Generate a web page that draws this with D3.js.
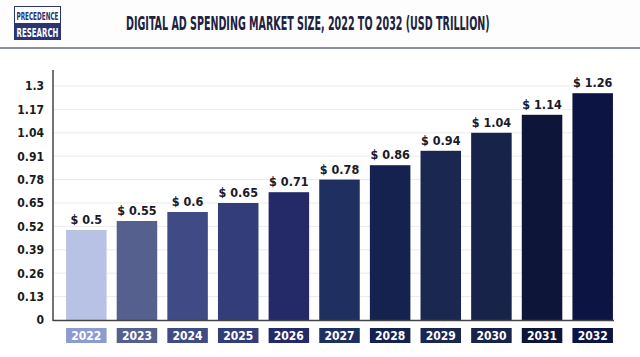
<!DOCTYPE html>
<html><head><meta charset="utf-8">
<script src="https://cdn.jsdelivr.net/npm/d3@7"></script>
<style>
html,body{margin:0;padding:0;background:#fff;}
svg{display:block;}
</style></head>
<body>
<svg id="c" width="640" height="357"></svg>
<script>
const years = ["2022","2023","2024","2025","2026","2027","2028","2029","2030","2031","2032"];
const values = [0.5,0.55,0.6,0.65,0.71,0.78,0.86,0.94,1.04,1.14,1.26];
const valueLabels = ["$ 0.5","$ 0.55","$ 0.6","$ 0.65","$ 0.71","$ 0.78","$ 0.86","$ 0.94","$ 1.04","$ 1.14","$ 1.26"];
const yTicks = [0,0.13,0.26,0.39,0.52,0.65,0.78,0.91,1.04,1.17,1.3];
const barColors = ["#b8c2e4","#56608f","#404b86","#323d79","#232a67","#1f2f5f","#152250","#1a2751","#172348","#0d1638","#0b1443"];
const boxColors = ["#8c9bd1","#56608f","#404b86","#323d79","#232a67","#1f2f5f","#152250","#1a2751","#172348","#0d1638","#0b1443"];

const svg = d3.select("#c");
const font = "'DejaVu Sans Condensed','Liberation Sans Narrow',sans-serif";

// fit text horizontally into a width by scaling
function fitX(sel, x, y, w) {
  const n = sel.node();
  const len = n.getComputedTextLength();
  const k = w / len;
  sel.attr("x", 0).attr("y", 0).attr("transform", `translate(${x},${y}) scale(${k},1)`);
}

// header
svg.append("rect").attr("x",0).attr("y",0).attr("width",640).attr("height",47).attr("fill","#fdfdfe");
svg.append("rect").attr("x",0).attr("y",47).attr("width",640).attr("height",2).attr("fill","#8a8ea8");
// logo
svg.append("rect").attr("x",14.5).attr("y",6.5).attr("width",46).attr("height",33).attr("fill","#fff").attr("stroke","#2b3470").attr("stroke-width",1);
svg.append("rect").attr("x",14.5).attr("y",23).attr("width",46).attr("height",16.5).attr("fill","#2b3470");
const l1 = svg.append("text").attr("font-family",font).attr("font-weight","bold").attr("font-size",11).attr("fill","#2b3470").text("PRECEDENCE");
fitX(l1, 16.5, 20, 42);
const l2 = svg.append("text").attr("font-family",font).attr("font-weight","bold").attr("font-size",12).attr("fill","#fff").text("RESEARCH");
fitX(l2, 16.5, 36.5, 42);
// title
const t = svg.append("text").attr("font-family",font).attr("font-weight","bold").attr("font-size",20).attr("fill","#1c2240")
  .text("DIGITAL AD SPENDING MARKET SIZE, 2022 TO 2032 (USD TRILLION)");
fitX(t, 126, 30, 364);

// chart
const x0 = 53, x1 = 614, yBase = 320, yTop = 86;
const x = d3.scaleBand().domain(years).range([61, 618]).paddingInner(0.2).paddingOuter(0.1);
const y = d3.scaleLinear().domain([0,1.3]).range([yBase, yTop]);

// gridlines
svg.append("g").selectAll("line").data(yTicks.filter(d=>d>0)).join("line")
  .attr("x1",x0).attr("x2",x1).attr("y1",d=>y(d)).attr("y2",d=>y(d))
  .attr("stroke","#ebebeb").attr("stroke-width",1);

// y axis
const yAxis = d3.axisLeft(y).tickValues(yTicks).tickSize(0).tickPadding(9).tickFormat(d=>d===0?"0":String(d));
const ga = svg.append("g").attr("transform",`translate(${x0},0)`).call(yAxis);
ga.select(".domain").remove();
ga.selectAll("text").attr("font-family",font).attr("font-weight","bold").attr("font-size",12).attr("fill","#1a1a1a");
svg.append("line").attr("x1",x0).attr("x2",x0).attr("y1",70).attr("y2",yBase+1).attr("stroke","#444").attr("stroke-width",1.5);

// bars
svg.append("g").selectAll("rect").data(years).join("rect")
  .attr("x",d=>x(d)).attr("width",x.bandwidth())
  .attr("y",(d,i)=>y(values[i])).attr("height",(d,i)=>yBase-y(values[i]))
  .attr("fill",(d,i)=>barColors[i]);

// baseline
svg.append("line").attr("x1",x0).attr("x2",x1).attr("y1",yBase+0.5).attr("y2",yBase+0.5).attr("stroke","#444").attr("stroke-width",1.5);

// value labels
svg.append("g").selectAll("text").data(years).join("text")
  .attr("x",d=>x(d)+x.bandwidth()/2).attr("y",(d,i)=>y(values[i])-6)
  .attr("text-anchor","middle").attr("font-family",font).attr("font-weight","bold").attr("font-size",12.5).attr("fill","#1a1a2a")
  .text((d,i)=>valueLabels[i]);

// category boxes
const gb = svg.append("g").selectAll("g").data(years).join("g");
gb.append("rect").attr("x",d=>x(d)).attr("width",x.bandwidth()).attr("y",328).attr("height",15).attr("fill",(d,i)=>boxColors[i]);
gb.append("text").attr("x",d=>x(d)+x.bandwidth()/2).attr("y",340).attr("text-anchor","middle")
  .attr("font-family",font).attr("font-weight","bold").attr("font-size",12).attr("fill","#fff").text(d=>d);
</script>
</body></html>
